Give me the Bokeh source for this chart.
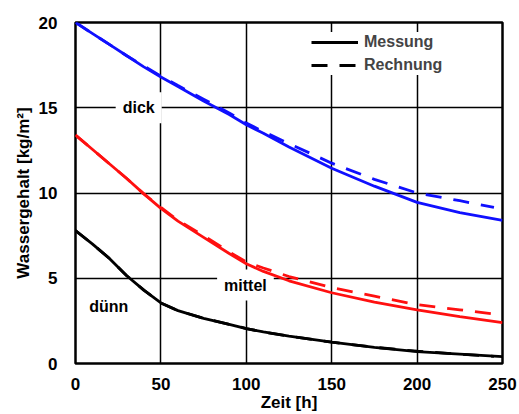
from bokeh.plotting import figure
from bokeh.models import Label, Legend, LegendItem, FixedTicker, Range1d
from bokeh.embed import file_html
from bokeh.resources import INLINE

# Zeit [h]
t = [0, 10, 20, 30, 40, 50, 60, 75, 90, 100, 110, 125, 150, 175, 200, 225, 250]
t_calc = [0, 10, 20, 30, 40, 50, 60, 75, 90, 100, 110, 125, 150, 175, 200, 225, 245]

# Messung (solid)
dick_mess = [20.0, 19.35, 18.7, 18.05, 17.4, 16.8, 16.25, 15.4, 14.6, 14.0, 13.5, 12.7, 11.45, 10.4, 9.45, 8.85, 8.4]
mittel_mess = [13.4, 12.55, 11.7, 10.85, 9.95, 9.1, 8.35, 7.4, 6.45, 5.85, 5.4, 4.85, 4.15, 3.6, 3.15, 2.75, 2.4]
duenn_mess = [7.8, 7.0, 6.15, 5.15, 4.3, 3.55, 3.1, 2.65, 2.3, 2.05, 1.85, 1.6, 1.25, 0.95, 0.7, 0.55, 0.4]

# Rechnung (dashed)
dick_rech = [20.0, 19.35, 18.7, 18.05, 17.45, 16.85, 16.3, 15.5, 14.7, 14.1, 13.6, 12.9, 11.75, 10.8, 10.0, 9.55, 9.15]
mittel_rech = [13.4, 12.55, 11.7, 10.85, 9.95, 9.15, 8.4, 7.5, 6.55, 5.95, 5.6, 5.1, 4.45, 3.95, 3.45, 3.15, 2.9]
duenn_rech = [7.8, 7.0, 6.15, 5.15, 4.3, 3.55, 3.1, 2.65, 2.3, 2.05, 1.85, 1.6, 1.25, 0.95, 0.72, 0.55, 0.42]

x_ticks = [0, 50, 100, 150, 200, 250]
y_ticks = [0, 5, 10, 15, 20]

FONT = "Liberation Sans"

p = figure(width=519, height=414, output_backend="svg", toolbar_location=None,
           x_range=Range1d(0, 250), y_range=Range1d(0, 20),
           min_border_left=75, min_border_right=17, min_border_top=22, min_border_bottom=51)

p.background_fill_color = "white"
p.border_fill_color = "white"
p.outline_line_color = "black"
p.outline_line_width = 2.5

for ax in (p.xaxis[0], p.yaxis[0]):
    ax.axis_line_color = None
    ax.major_tick_line_color = None
    ax.minor_tick_line_color = None
    ax.major_label_text_font = FONT
    ax.major_label_text_font_style = "bold"
    ax.major_label_text_font_size = "17px"
    ax.major_label_text_color = "black"
    ax.axis_label_text_font = FONT
    ax.axis_label_text_font_style = "bold"
    ax.axis_label_text_font_size = "17px"
    ax.axis_label_text_color = "black"

p.xaxis.ticker = FixedTicker(ticks=x_ticks)
p.yaxis.ticker = FixedTicker(ticks=y_ticks)
p.xaxis.major_label_standoff = 8
p.yaxis.major_label_standoff = 12
p.xaxis.axis_label = "Zeit [h]"
p.yaxis.axis_label = "Wassergehalt [kg/m²]"
p.xaxis.axis_label_standoff = 0
p.yaxis.axis_label_standoff = 3

p.xgrid.ticker = FixedTicker(ticks=x_ticks)
p.ygrid.ticker = FixedTicker(ticks=y_ticks)
p.grid.grid_line_color = "black"
p.grid.grid_line_width = 1.5
p.grid.grid_line_alpha = 1.0

labels = [("dick", 37, 15.0), ("mittel", 99.5, 4.6), ("dünn", 19.5, 3.35)]
for txt, lx, ly in labels:
    p.add_layout(Label(x=lx, y=ly, text=txt, text_align="center", text_baseline="middle",
                       text_font=FONT, text_font_style="bold", text_font_size="16px",
                       text_color="black", background_fill_color="white",
                       background_fill_alpha=1.0, padding=7, level="underlay"))

DASH = "16 12"
W = 2.8

p.line(t_calc, dick_rech, color="#1010ff", line_width=W, line_dash=DASH)
p.line(t_calc, mittel_rech, color="#ff1010", line_width=W, line_dash=DASH)
r_rech = p.line(t_calc, duenn_rech, color="black", line_width=W, line_dash=DASH)
p.line(t, dick_mess, color="#1010ff", line_width=W)
p.line(t, mittel_mess, color="#ff1010", line_width=W)
r_mess = p.line(t, duenn_mess, color="black", line_width=W)

legend = Legend(items=[LegendItem(label="Messung", renderers=[r_mess]),
                       LegendItem(label="Rechnung", renderers=[r_rech])],
                location=(236, 288))
legend.label_text_font = FONT
legend.label_text_font_style = "bold"
legend.label_text_font_size = "16px"
legend.glyph_width = 47
legend.glyph_height = 20
legend.label_height = 20
legend.label_standoff = 6
legend.padding = 7
legend.spacing = 3
legend.margin = 0
legend.border_line_color = None
legend.background_fill_color = "white"
legend.background_fill_alpha = 1.0
p.add_layout(legend)

open("out.html", "w").write(file_html(p, INLINE))
